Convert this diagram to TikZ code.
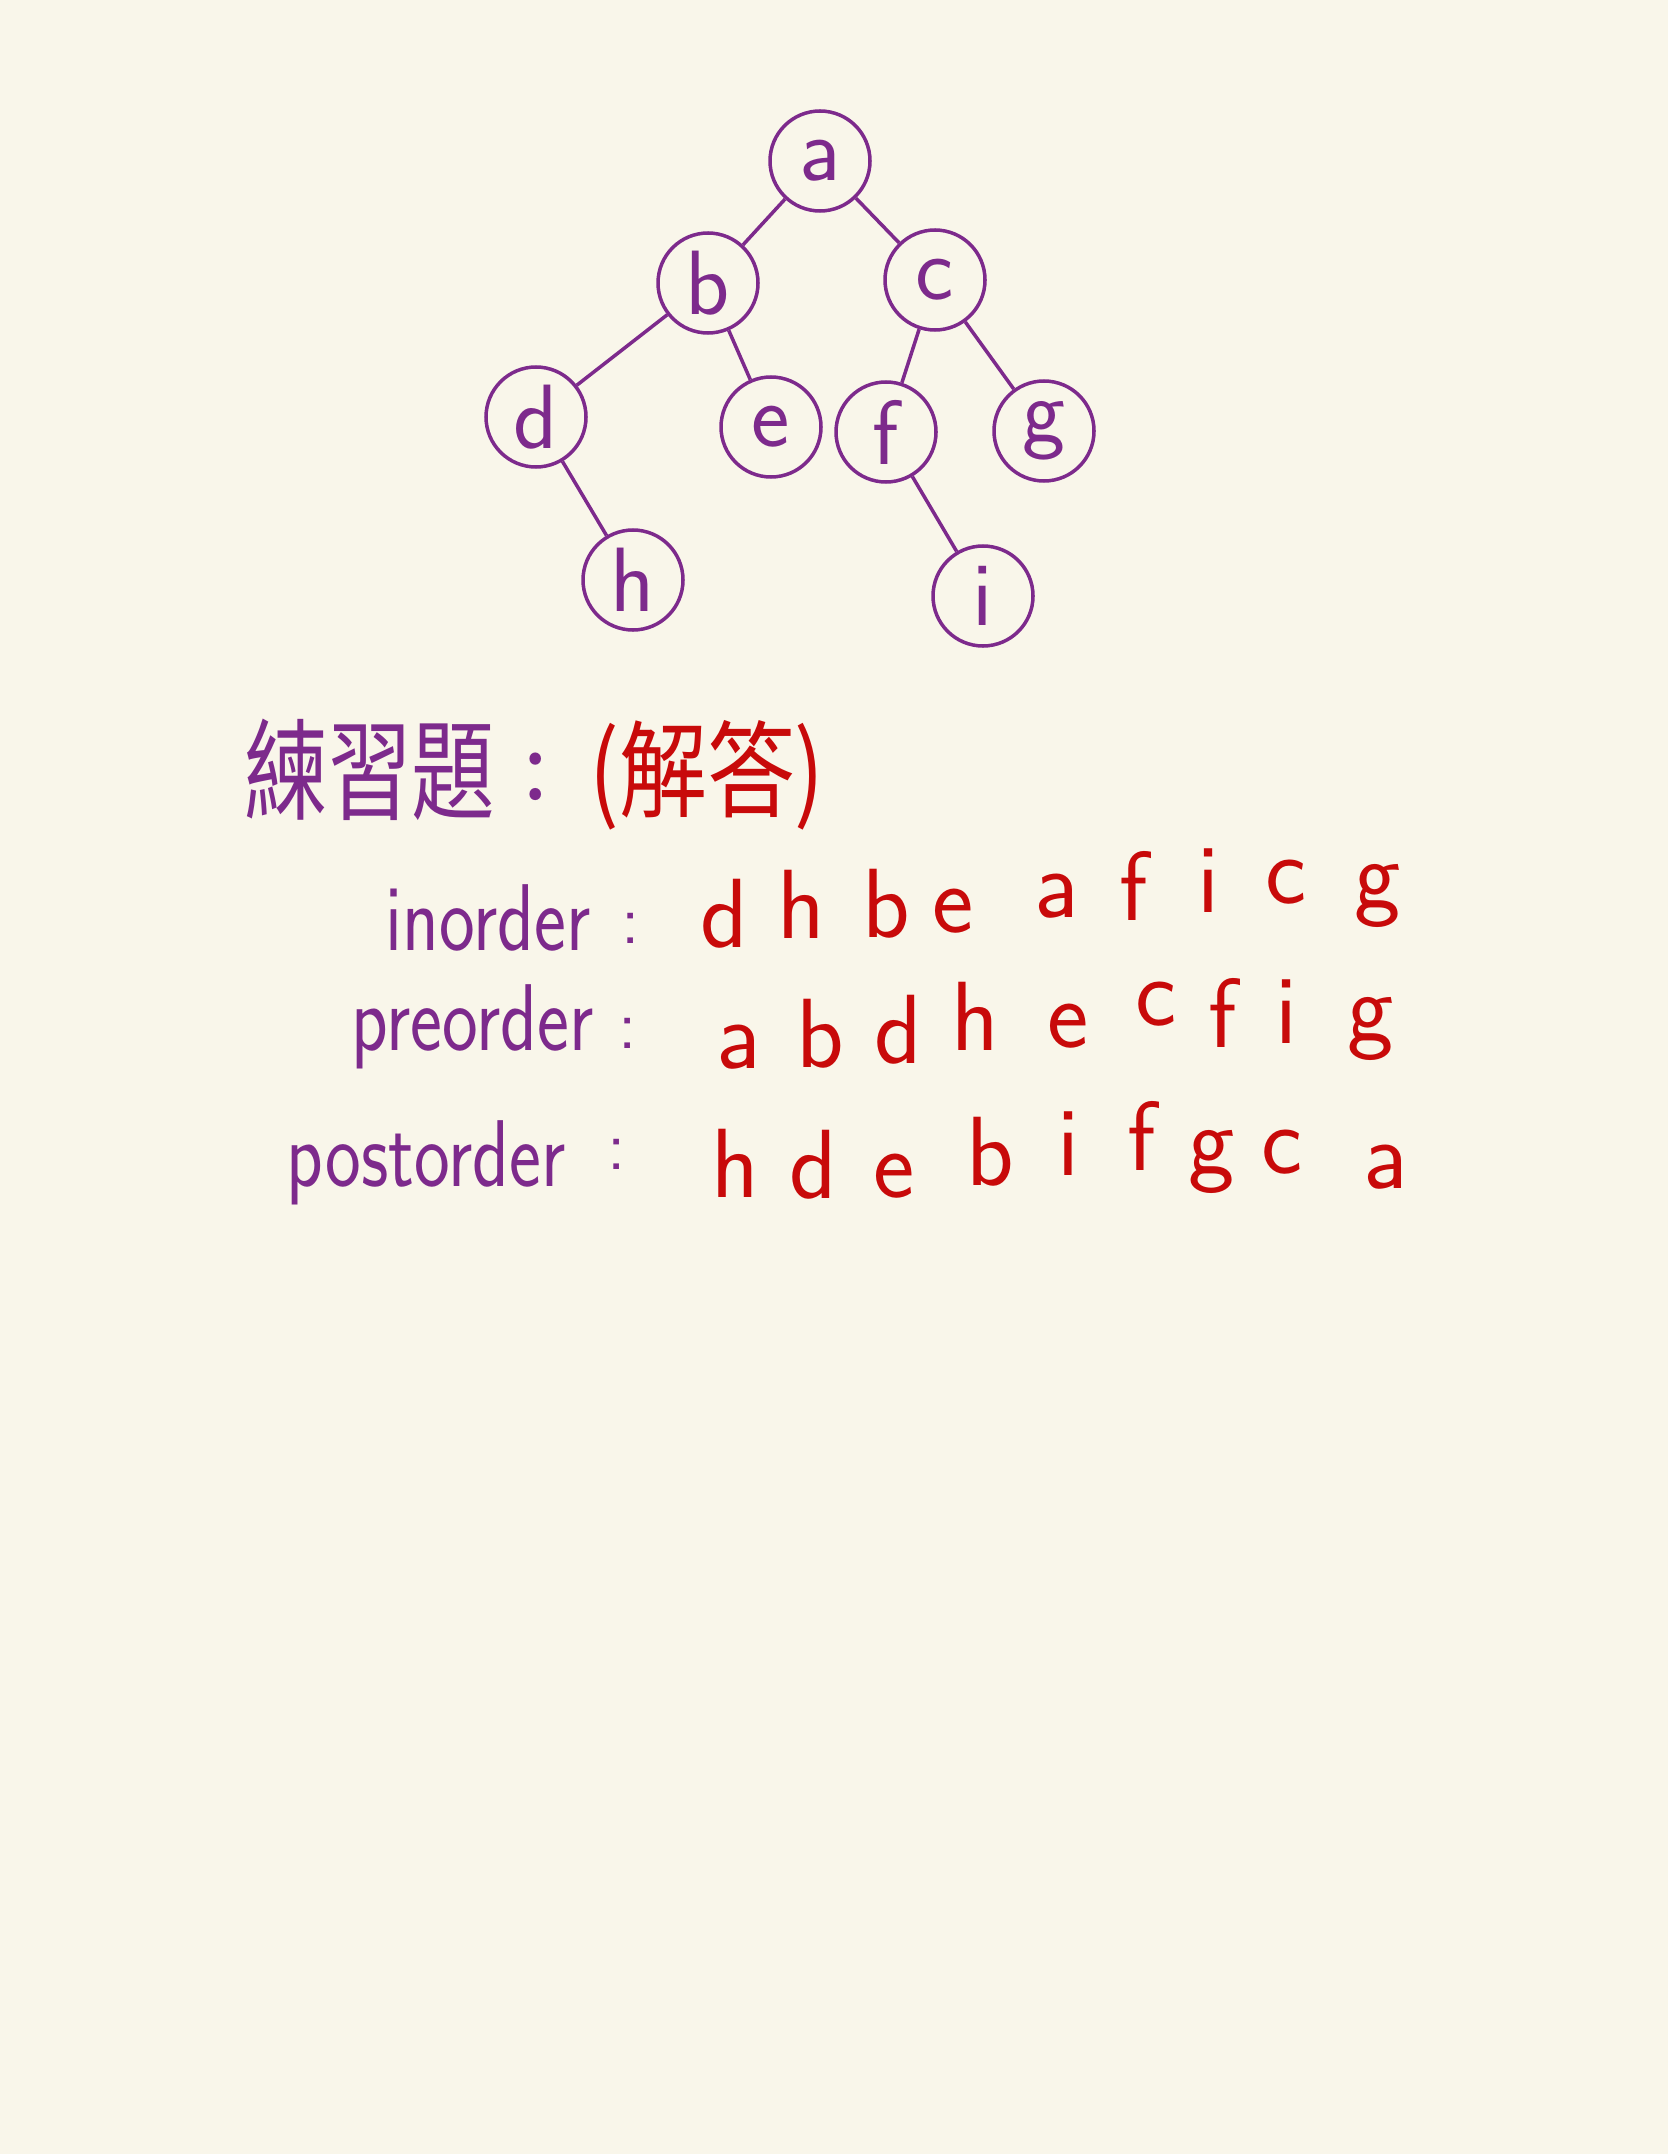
\documentclass[tikz,border=0pt]{standalone}
\usepackage{fontspec}
\newfontfamily\cjk{Noto Sans CJK TC}
\usetikzlibrary{positioning}
\definecolor{paper}{HTML}{F9F6EA}
\definecolor{ink}{HTML}{7D2A8C}
\definecolor{redink}{HTML}{C80A0A}
\newcommand{\narrow}[1]{\scalebox{0.8}[1]{#1}}

\begin{document}
\begin{tikzpicture}[
  treenode/.style={circle,draw=ink,line width=1pt,minimum size=1cm,inner sep=0pt,
    text=ink,font=\sffamily\fontsize{26}{30}\selectfont},
  branch/.style={draw=ink,line width=1pt},
  heading/.style={inner sep=0pt,font=\cjk\fontsize{25}{30}\selectfont},
  ordlabel/.style={anchor=base east,inner sep=0pt,text=ink,font=\sffamily\fontsize{27}{32}\selectfont},
  ordcolon/.style={anchor=base,inner sep=0pt,text=ink,font=\sffamily\fontsize{20}{24}\selectfont},
  ans/.style={anchor=base,inner sep=0pt,text=redink,font=\sffamily\fontsize{28}{32}\selectfont}]
\fill[paper] (0,0) rectangle (16.68,-21.54);
\useasboundingbox (0,0) rectangle (16.68,-21.54);

% the tree
\node[treenode] (a) at (8.20,-1.61) {a};
\node[treenode] (b) at (7.08,-2.83) {b};
\node[treenode] (c) at (9.35,-2.80) {c};
\node[treenode] (d) at (5.36,-4.17) {d};
\node[treenode] (e) at (7.71,-4.27) {e};
\node[treenode] (f) at (8.86,-4.32) {f};
\node[treenode] (g) at (10.44,-4.31) {g};
\node[treenode] (h) at (6.33,-5.80) {h};
\node[treenode] (i) at (9.83,-5.96) {i};
\draw[branch] (a)--(b);
\draw[branch] (a)--(c);
\draw[branch] (b)--(d);
\draw[branch] (b)--(e);
\draw[branch] (c)--(f);
\draw[branch] (c)--(g);
\draw[branch] (d)--(h);
\draw[branch] (f)--(i);

% heading
\node[heading,text=ink] (title) at (3.70,-7.70) {\scalebox{0.95}[1.25]{練習題}};
\node[heading,text=ink] (titlecolon) at (5.36,-7.77) {:};
\node[heading,text=redink] (answer) at (7.07,-7.75) {\scalebox{1}[1.2]{(解答)}};

% traversals
\node[ordlabel] (inorder) at (5.91,-9.50) {\narrow{inorder}};
\node[ordlabel] (preorder) at (5.94,-10.50) {\narrow{preorder}};
\node[ordlabel] (postorder) at (5.66,-11.86) {\narrow{postorder}};
\node[ordcolon] (incolon) at (6.31,-9.43) {:};
\node[ordcolon] (precolon) at (6.28,-10.48) {:};
\node[ordcolon] (postcolon) at (6.17,-11.69) {:};
\foreach \ch/\x/\y [count=\k] in {d/7.24/9.47,h/8.01/9.38,b/8.86/9.37,e/9.53/9.32,a/10.57/9.17,
    f/11.34/9.20,i/12.08/9.12,c/12.86/9.03,g/13.78/9.07}
  \node[ans] (in\k) at (\x,-\y) {\ch};
\foreach \ch/\x/\y [count=\k] in {a/7.39/10.68,b/8.20/10.67,d/8.98/10.63,h/9.75/10.50,e/10.68/10.47,
    c/11.56/10.25,f/12.23/10.47,i/12.86/10.43,g/13.71/10.40}
  \node[ans] (pre\k) at (\x,-\y) {\ch};
\foreach \ch/\x/\y [count=\k] in {h/7.35/11.97,d/8.13/11.98,e/8.94/11.97,b/9.90/11.85,i/10.68/11.75,
    f/11.42/11.70,g/12.12/11.73,c/12.82/11.73,a/13.86/11.88}
  \node[ans] (post\k) at (\x,-\y) {\ch};
\end{tikzpicture}
\end{document}
